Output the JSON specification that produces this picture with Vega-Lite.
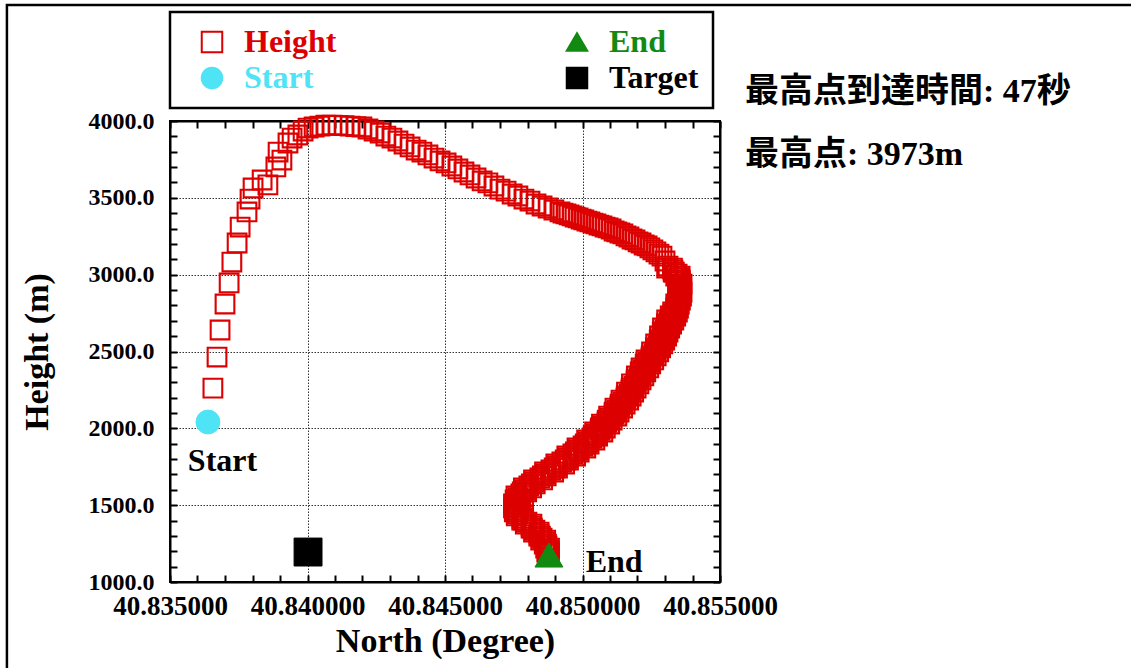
{
 "$schema": "https://vega.github.io/schema/vega-lite/v6.json",
 "width": 550,
 "height": 461,
 "autosize": {"type": "none"},
 "padding": {"left": 170, "top": 121, "right": 411, "bottom": 86},
 "background": "white",
 "datasets": {
  "track": [
   {"n":40.83656,"h":2262},{"n":40.83671,"h":2464},{"n":40.83682,"h":2640},{"n":40.83700,"h":2809},{"n":40.83715,"h":2946},
   {"n":40.83725,"h":3082},{"n":40.83744,"h":3206},{"n":40.83755,"h":3310},{"n":40.83780,"h":3408},{"n":40.83791,"h":3492},
   {"n":40.83802,"h":3564},{"n":40.83835,"h":3616},{"n":40.83856,"h":3584},{"n":40.83885,"h":3701},{"n":40.83907,"h":3746},
   {"n":40.83893,"h":3798},{"n":40.83929,"h":3857},{"n":40.83944,"h":3889},{"n":40.83965,"h":3909},{"n":40.83984,"h":3935},
   {"n":40.84002,"h":3954},{"n":40.84024,"h":3961},{"n":40.84045,"h":3967},{"n":40.84067,"h":3973},{"n":40.84089,"h":3973},
   {"n":40.84111,"h":3972},{"n":40.84133,"h":3970},{"n":40.84155,"h":3967},{"n":40.84176,"h":3964},{"n":40.84198,"h":3961},
   {"n":40.84220,"h":3948},{"n":40.84242,"h":3935},{"n":40.84264,"h":3922},{"n":40.84285,"h":3902},{"n":40.84307,"h":3889},
   {"n":40.84329,"h":3870},{"n":40.84351,"h":3850},{"n":40.84373,"h":3831},{"n":40.84395,"h":3811},{"n":40.84416,"h":3798},
   {"n":40.84438,"h":3779},{"n":40.84460,"h":3759},{"n":40.84482,"h":3740},{"n":40.84504,"h":3727},{"n":40.84525,"h":3707},
   {"n":40.84547,"h":3688},{"n":40.84569,"h":3668},{"n":40.84591,"h":3649},{"n":40.84613,"h":3629},{"n":40.84635,"h":3610},
   {"n":40.84656,"h":3597},{"n":40.84678,"h":3577},{"n":40.84700,"h":3557},{"n":40.84722,"h":3544},{"n":40.84744,"h":3525},
   {"n":40.84765,"h":3512},{"n":40.84787,"h":3492},{"n":40.84809,"h":3479},{"n":40.84831,"h":3460},{"n":40.84853,"h":3447},
   {"n":40.84875,"h":3434},{"n":40.84896,"h":3421},{"n":40.84918,"h":3408},{"n":40.84929,"h":3401},{"n":40.84940,"h":3395},
   {"n":40.84951,"h":3389},{"n":40.84962,"h":3382},{"n":40.84973,"h":3375},{"n":40.84984,"h":3369},{"n":40.84995,"h":3362},
   {"n":40.85005,"h":3356},{"n":40.85016,"h":3349},{"n":40.85027,"h":3343},{"n":40.85038,"h":3336},{"n":40.85049,"h":3330},
   {"n":40.85060,"h":3323},{"n":40.85071,"h":3317},{"n":40.85082,"h":3310},{"n":40.85093,"h":3304},{"n":40.85104,"h":3297},
   {"n":40.85115,"h":3284},{"n":40.85125,"h":3278},{"n":40.85136,"h":3271},{"n":40.85147,"h":3265},{"n":40.85158,"h":3252},
   {"n":40.85169,"h":3245},{"n":40.85180,"h":3232},{"n":40.85191,"h":3226},{"n":40.85202,"h":3213},{"n":40.85213,"h":3206},
   {"n":40.85224,"h":3193},{"n":40.85235,"h":3187},{"n":40.85245,"h":3174},{"n":40.85256,"h":3161},{"n":40.85267,"h":3148},
   {"n":40.85278,"h":3134},{"n":40.85289,"h":3121},{"n":40.85300,"h":3089},
   {"n":40.85311,"h":3056},{"n":40.85329,"h":3030},{"n":40.85344,"h":3004},{"n":40.85351,"h":2978},{"n":40.85355,"h":2952},
   {"n":40.85355,"h":2926},{"n":40.85355,"h":2900},{"n":40.85355,"h":2874},{"n":40.85351,"h":2848},{"n":40.85347,"h":2822},
   {"n":40.85344,"h":2796},{"n":40.85340,"h":2770},{"n":40.85329,"h":2744},{"n":40.85322,"h":2718},{"n":40.85315,"h":2692},
   {"n":40.85307,"h":2666},{"n":40.85300,"h":2640},{"n":40.85296,"h":2614},{"n":40.85289,"h":2588},{"n":40.85282,"h":2562},
   {"n":40.85275,"h":2536},{"n":40.85267,"h":2510},{"n":40.85260,"h":2484},{"n":40.85249,"h":2458},{"n":40.85238,"h":2432},
   {"n":40.85231,"h":2406},{"n":40.85220,"h":2380},{"n":40.85213,"h":2354},{"n":40.85205,"h":2328},{"n":40.85195,"h":2302},
   {"n":40.85187,"h":2275},{"n":40.85176,"h":2249},{"n":40.85169,"h":2223},{"n":40.85158,"h":2197},{"n":40.85147,"h":2171},
   {"n":40.85136,"h":2145},{"n":40.85125,"h":2119},{"n":40.85115,"h":2093},{"n":40.85100,"h":2067},{"n":40.85089,"h":2041},
   {"n":40.85075,"h":2015},{"n":40.85064,"h":1989},{"n":40.85049,"h":1963},{"n":40.85035,"h":1937},{"n":40.85020,"h":1911},
   {"n":40.85002,"h":1885},{"n":40.84984,"h":1859},{"n":40.84965,"h":1833},{"n":40.84947,"h":1807},{"n":40.84925,"h":1781},
   {"n":40.84907,"h":1755},{"n":40.84885,"h":1729},{"n":40.84864,"h":1703},{"n":40.84845,"h":1677},{"n":40.84824,"h":1651},
   {"n":40.84805,"h":1625},{"n":40.84791,"h":1599},{"n":40.84776,"h":1573},{"n":40.84765,"h":1547},{"n":40.84758,"h":1521},
   {"n":40.84755,"h":1495},{"n":40.84755,"h":1469},{"n":40.84765,"h":1443},{"n":40.84780,"h":1416},{"n":40.84798,"h":1390},
   {"n":40.84813,"h":1364},{"n":40.84827,"h":1338},{"n":40.84842,"h":1312},{"n":40.84853,"h":1286},{"n":40.84864,"h":1260},
   {"n":40.84871,"h":1234},{"n":40.84875,"h":1208},{"n":40.84878,"h":1182},
   {"n":40.85327,"h":3043},{"n":40.85330,"h":3017},{"n":40.85355,"h":2991},{"n":40.85346,"h":2965},{"n":40.85362,"h":2939},
   {"n":40.85348,"h":2913},{"n":40.85362,"h":2887},{"n":40.85346,"h":2861},{"n":40.85356,"h":2835},{"n":40.85339,"h":2809},
   {"n":40.85349,"h":2783},{"n":40.85328,"h":2757},{"n":40.85339,"h":2731},{"n":40.85306,"h":2705},{"n":40.85324,"h":2679},
   {"n":40.85291,"h":2653},{"n":40.85311,"h":2627},{"n":40.85280,"h":2601},{"n":40.85299,"h":2575},{"n":40.85266,"h":2549},
   {"n":40.85284,"h":2523},{"n":40.85251,"h":2497},{"n":40.85268,"h":2471},{"n":40.85231,"h":2445},{"n":40.85248,"h":2419},
   {"n":40.85213,"h":2393},{"n":40.85230,"h":2367},{"n":40.85196,"h":2341},{"n":40.85213,"h":2315},{"n":40.85178,"h":2289},
   {"n":40.85195,"h":2262},{"n":40.85160,"h":2236},{"n":40.85177,"h":2210},{"n":40.85140,"h":2184},{"n":40.85155,"h":2158},
   {"n":40.85118,"h":2132},{"n":40.85133,"h":2106},{"n":40.85095,"h":2080},{"n":40.85108,"h":2054},{"n":40.85069,"h":2028},
   {"n":40.85083,"h":2002},{"n":40.85044,"h":1976},{"n":40.85055,"h":1950},{"n":40.85015,"h":1924},{"n":40.85024,"h":1898},
   {"n":40.84980,"h":1872},{"n":40.84988,"h":1846},{"n":40.84943,"h":1820},{"n":40.84949,"h":1794},{"n":40.84903,"h":1768},
   {"n":40.84909,"h":1742},{"n":40.84862,"h":1716},{"n":40.84868,"h":1690},{"n":40.84822,"h":1664},{"n":40.84828,"h":1638},
   {"n":40.84785,"h":1612},{"n":40.84797,"h":1586},{"n":40.84758,"h":1560},{"n":40.84775,"h":1534},{"n":40.84749,"h":1508},
   {"n":40.84768,"h":1482},{"n":40.84752,"h":1456},{"n":40.84786,"h":1430},{"n":40.84779,"h":1403},{"n":40.84816,"h":1377},
   {"n":40.84813,"h":1351},{"n":40.84842,"h":1325},{"n":40.84841,"h":1299},{"n":40.84866,"h":1273},{"n":40.84861,"h":1247},
   {"n":40.84880,"h":1221},{"n":40.84870,"h":1195},
   {"n":40.85306,"h":3043},{"n":40.85334,"h":3017},{"n":40.85339,"h":2991},{"n":40.85356,"h":2965},{"n":40.85350,"h":2939},
   {"n":40.85360,"h":2913},{"n":40.85350,"h":2887},{"n":40.85360,"h":2861},{"n":40.85346,"h":2835},{"n":40.85352,"h":2809},
   {"n":40.85339,"h":2783},{"n":40.85345,"h":2757},{"n":40.85319,"h":2731},{"n":40.85332,"h":2705},{"n":40.85305,"h":2679},
   {"n":40.85317,"h":2653},{"n":40.85290,"h":2627},{"n":40.85306,"h":2601},{"n":40.85279,"h":2575},{"n":40.85292,"h":2549},
   {"n":40.85265,"h":2523},{"n":40.85277,"h":2497},{"n":40.85250,"h":2471},{"n":40.85259,"h":2445},{"n":40.85228,"h":2419},
   {"n":40.85241,"h":2393},{"n":40.85210,"h":2367},{"n":40.85223,"h":2341},{"n":40.85195,"h":2315},{"n":40.85205,"h":2289},
   {"n":40.85177,"h":2262},{"n":40.85186,"h":2236},{"n":40.85159,"h":2210},{"n":40.85168,"h":2184},{"n":40.85137,"h":2158},
   {"n":40.85146,"h":2132},{"n":40.85115,"h":2106},{"n":40.85125,"h":2080},{"n":40.85090,"h":2054},{"n":40.85099,"h":2028},
   {"n":40.85065,"h":2002},{"n":40.85074,"h":1976},{"n":40.85039,"h":1950},{"n":40.85045,"h":1924},{"n":40.85010,"h":1898},
   {"n":40.85012,"h":1872},{"n":40.84974,"h":1846},{"n":40.84975,"h":1820},{"n":40.84937,"h":1794},{"n":40.84935,"h":1768},
   {"n":40.84897,"h":1742},{"n":40.84895,"h":1716},{"n":40.84854,"h":1690},{"n":40.84855,"h":1664},{"n":40.84814,"h":1638},
   {"n":40.84815,"h":1612},{"n":40.84781,"h":1586},{"n":40.84786,"h":1560},{"n":40.84755,"h":1534},{"n":40.84764,"h":1508},
   {"n":40.84749,"h":1482},{"n":40.84761,"h":1456},{"n":40.84759,"h":1430},{"n":40.84786,"h":1403},{"n":40.84792,"h":1377},
   {"n":40.84818,"h":1351},{"n":40.84822,"h":1325},{"n":40.84847,"h":1299},{"n":40.84848,"h":1273},{"n":40.84869,"h":1247},
   {"n":40.84866,"h":1221},{"n":40.84880,"h":1195}
  ]
 },
 "resolve": {"axis": {"x": "independent", "y": "independent"}},
 "layer": [
  {
   "data": {"values": [{"n": 40.82907, "n2": 40.9, "h": 4755, "h2": 0}]},
   "mark": {"type": "rect", "filled": false, "stroke": "black", "strokeWidth": 2.5, "clip": false},
   "encoding": {
    "x": {"field": "n", "type": "quantitative", "axis": null},
    "x2": {"field": "n2"},
    "y": {"field": "h", "type": "quantitative", "axis": null},
    "y2": {"field": "h2"}
   }
  },
  {
   "data": {"name": "track"},
   "mark": {"type": "point", "size": 350, "strokeWidth": 2.1, "opacity": 1},
   "encoding": {
    "x": {"field": "n", "type": "quantitative", "title": "North (Degree)",
     "scale": {"domain": [40.835, 40.855], "nice": false, "zero": false},
     "axis": {"orient": "bottom",
      "values": [40.835,40.836,40.837,40.838,40.839,40.84,40.841,40.842,40.843,40.844,40.845,40.846,40.847,40.848,40.849,40.85,40.851,40.852,40.853,40.854,40.855],
      "labelExpr": "abs(datum.value*200-round(datum.value*200))<1e-6 ? format(datum.value,'.6f') : ''",
      "labelFontSize": 27, "labelPadding": 18, "grid": true,
      "gridOpacity": {"condition": {"test": "abs(datum.value*200-round(datum.value*200))<1e-6", "value": 1}, "value": 0},
      "titleFontSize": 34, "titlePadding": 5}},
    "y": {"field": "h", "type": "quantitative", "title": "Height (m)",
     "scale": {"domain": [1000, 4000], "nice": false, "zero": false},
     "axis": {"orient": "left",
      "values": [1000,1100,1200,1300,1400,1500,1600,1700,1800,1900,2000,2100,2200,2300,2400,2500,2600,2700,2800,2900,3000,3100,3200,3300,3400,3500,3600,3700,3800,3900,4000],
      "labelExpr": "datum.value % 500 === 0 ? format(datum.value,'.1f') : ''",
      "labelFontSize": 24, "labelPadding": 23, "grid": true,
      "gridOpacity": {"condition": {"test": "datum.value % 500 === 0", "value": 1}, "value": 0},
      "titleFontSize": 34, "titlePadding": 34}},
    "shape": {"datum": "Height", "type": "nominal",
     "scale": {"domain": ["Height", "Start", "End", "Target"], "range": ["square", "circle", "triangle-up", "square"]},
     "legend": {"title": null, "labelColor": {"expr": "datum.value === 'Height' ? '#dc0000' : datum.value === 'Start' ? '#4fe3f6' : datum.value === 'End' ? '#128a12' : '#000000'"}}},
    "fill": {"datum": "Height", "type": "nominal",
     "scale": {"domain": ["Height", "Start", "End", "Target"], "range": ["transparent", "#4fe3f6", "#128a12", "#000000"]},
     "legend": {"title": null, "labelColor": {"expr": "datum.value === 'Height' ? '#dc0000' : datum.value === 'Start' ? '#4fe3f6' : datum.value === 'End' ? '#128a12' : '#000000'"}}},
    "stroke": {"datum": "Height", "type": "nominal",
     "scale": {"domain": ["Height", "Start", "End", "Target"], "range": ["#dc0000", "#4fe3f6", "#128a12", "#000000"]},
     "legend": {"title": null, "labelColor": {"expr": "datum.value === 'Height' ? '#dc0000' : datum.value === 'Start' ? '#4fe3f6' : datum.value === 'End' ? '#128a12' : '#000000'"}}}
   }
  },
  {
   "data": {"values": [{"n": 40.83638, "h": 2041}]},
   "mark": {"type": "point", "size": 570, "strokeWidth": 1, "opacity": 1},
   "encoding": {
    "x": {"field": "n", "type": "quantitative", "axis": null},
    "y": {"field": "h", "type": "quantitative", "axis": null},
    "shape": {"datum": "Start", "type": "nominal"},
    "fill": {"datum": "Start", "type": "nominal"},
    "stroke": {"datum": "Start", "type": "nominal"}
   }
  },
  {
   "data": {"values": [{"n": 40.84878, "h": 1176}]},
   "mark": {"type": "point", "size": 780, "strokeWidth": 1, "opacity": 1},
   "encoding": {
    "x": {"field": "n", "type": "quantitative", "axis": null},
    "y": {"field": "h", "type": "quantitative", "axis": null},
    "shape": {"datum": "End", "type": "nominal"},
    "fill": {"datum": "End", "type": "nominal"},
    "stroke": {"datum": "End", "type": "nominal"}
   }
  },
  {
   "data": {"values": [{"n": 40.84002, "h": 1195}]},
   "mark": {"type": "point", "size": 780, "strokeWidth": 1, "opacity": 1},
   "encoding": {
    "x": {"field": "n", "type": "quantitative",
     "axis": {"orient": "top", "labels": false, "grid": false, "title": null,
      "values": [40.835,40.836,40.837,40.838,40.839,40.84,40.841,40.842,40.843,40.844,40.845,40.846,40.847,40.848,40.849,40.85,40.851,40.852,40.853,40.854,40.855]}},
    "y": {"field": "h", "type": "quantitative",
     "axis": {"orient": "right", "labels": false, "grid": false, "title": null,
      "values": [1000,1100,1200,1300,1400,1500,1600,1700,1800,1900,2000,2100,2200,2300,2400,2500,2600,2700,2800,2900,3000,3100,3200,3300,3400,3500,3600,3700,3800,3900,4000]}},
    "shape": {"datum": "Target", "type": "nominal"},
    "fill": {"datum": "Target", "type": "nominal"},
    "stroke": {"datum": "Target", "type": "nominal"}
   }
  },
  {
   "data": {"values": [{"t": "Start", "n": 40.83691, "h": 1787}, {"t": "End", "n": 40.85115, "h": 1130}]},
   "mark": {"type": "text", "font": "Liberation Serif", "fontWeight": "bold", "fontSize": 32, "color": "black", "align": "center", "baseline": "middle", "clip": false},
   "encoding": {
    "x": {"field": "n", "type": "quantitative", "axis": null},
    "y": {"field": "h", "type": "quantitative", "axis": null},
    "text": {"field": "t"}
   }
  },
  {
   "data": {"values": [{"t": "最高点到達時間: 47秒", "n": 40.85591, "h": 4189}, {"t": "最高点: 3973m", "n": 40.85591, "h": 3779}]},
   "mark": {"type": "text", "font": "'Liberation Serif', 'Noto Sans CJK JP'", "fontWeight": "bold", "fontSize": 34, "color": "black", "align": "left", "baseline": "middle", "clip": false},
   "encoding": {
    "x": {"field": "n", "type": "quantitative", "axis": null},
    "y": {"field": "h", "type": "quantitative", "axis": null},
    "text": {"field": "t"}
   }
  }
 ],
 "config": {
  "view": {"stroke": "black", "strokeWidth": 2},
  "axis": {"tickSize": -7, "tickWidth": 2, "tickColor": "black", "domainColor": "black", "domainWidth": 2,
   "labelFont": "Liberation Serif", "labelFontWeight": "bold", "labelColor": "black",
   "titleFont": "Liberation Serif", "titleFontWeight": "bold", "titleColor": "black",
   "gridColor": "#333333", "gridDash": [1.5, 1.5], "gridWidth": 1,
   "labelOverlap": false, "labelFlush": false, "labelBound": false},
  "legend": {"orient": "none", "legendX": 0, "legendY": -109, "columns": 2, "columnPadding": 212, "rowPadding": 4,
   "padding": 14, "strokeColor": "black", "strokeWidth": 2.5, "fillColor": "white",
   "symbolSize": 420, "symbolStrokeWidth": 2, "symbolOpacity": 1, "symbolOffset": 12,
   "labelFont": "Liberation Serif", "labelFontWeight": "bold", "labelFontSize": 32, "labelOffset": 16, "labelLimit": 400},
  "point": {"opacity": 1}
 }
}
